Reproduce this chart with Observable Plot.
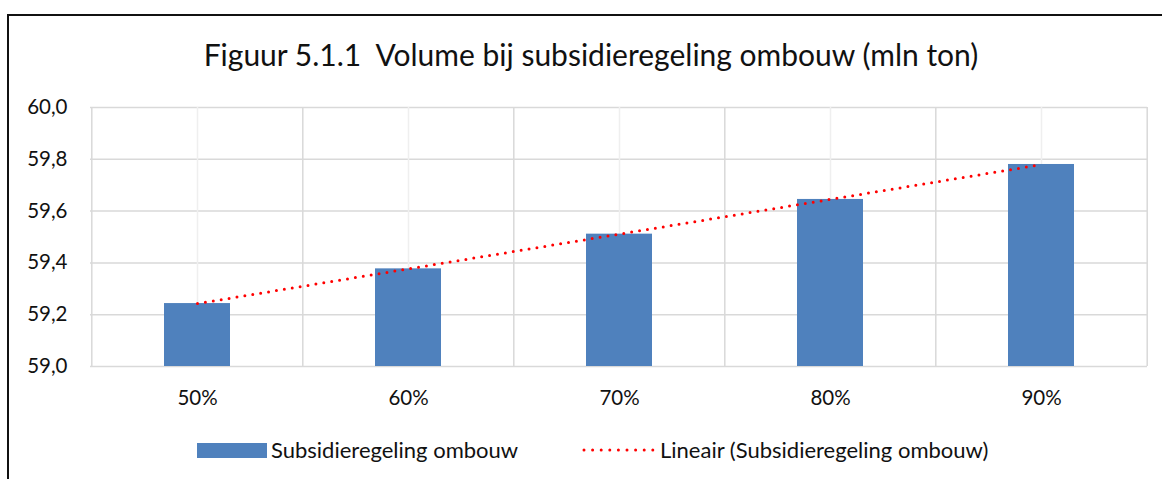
<!DOCTYPE html>
<html>
<head>
<meta charset="utf-8">
<script src="https://cdn.jsdelivr.net/npm/d3@7"></script>
<script src="https://cdn.jsdelivr.net/npm/@observablehq/plot@0.6"></script>
<style>
  html, body { margin: 0; padding: 0; background: #fff; }
  #wrap { position: relative; width: 1162px; height: 479px; overflow: hidden; font-family: Lato, "Open Sans", sans-serif; color: #111; }
  #frame { position: absolute; left: 7px; top: 14px; width: 1170px; height: 480px; border-left: 2px solid #111; border-top: 2px solid #111; }
  #title { position: absolute; left: 0; width: 1182px; top: 37px; text-align: center; font-size: 30px; line-height: 34px; white-space: pre; }
  #chart { position: absolute; left: 0; top: 90px; }
  #legend { position: absolute; top: 437px; left: 0; height: 26px; font-size: 22px; line-height: 26px; white-space: nowrap; }
  .item { position: absolute; top: 0; display: flex; align-items: center; height: 26px; }
  .swatch { width: 70px; height: 15px; background: #4f81bd; margin-right: 4px; }
</style>
</head>
<body>
<div id="wrap">
  <div id="frame"></div>
  <div id="title"></div>
  <div id="chart"></div>
  <div id="legend"></div>
</div>
<script>
// ---- data ----
const titleText = "Figuur 5.1.1  Volume bij subsidieregeling ombouw (mln ton)";
const categories = ["50%", "60%", "70%", "80%", "90%"];
const volumes = [59.243, 59.377, 59.511, 59.645, 59.780];
const yTicks = [59.0, 59.2, 59.4, 59.6, 59.8, 60.0];
const seriesName = "Subsidieregeling ombouw";
const trendName = "Lineair (Subsidieregeling ombouw)";

// ---- build ----
document.getElementById("title").textContent = titleText;

const data = categories.map((c, i) => ({cat: c, v: volumes[i], i}));
// linear trendline (least squares) computed from the series
const mx = d3.mean(data, d => d.i), my = d3.mean(data, d => d.v);
const slope = d3.sum(data, d => (d.i - mx) * (d.v - my)) / d3.sum(data, d => (d.i - mx) ** 2);
const intercept = my - slope * mx;
const trend = data.map(d => ({cat: d.cat, t: intercept + slope * d.i}));

const W = 1162, H = 330, ML = 90, MR = 15, MT = 17, MB = 54;
const step = (W - ML - MR) / categories.length;
const fmt = v => d3.format(".1f")(v).replace(".", ",");

const chart = Plot.plot({
  width: W, height: H,
  marginLeft: ML, marginRight: MR, marginTop: MT, marginBottom: MB,
  style: {fontFamily: "Lato, 'Open Sans', sans-serif", fontSize: "20px", color: "#111", background: "transparent", overflow: "visible"},
  x: {domain: categories, paddingInner: 0.688, paddingOuter: 0.344, align: 0.5, label: null},
  y: {domain: [59.0, 60.0], label: null},
  marks: [
    Plot.ruleY(yTicks, {stroke: "#d9d9d9", strokeWidth: 1.5}),
    Plot.ruleX(categories, {y1: 59.0, y2: 60.0, stroke: "#efefef", strokeWidth: 1.5}),
    Plot.ruleX(categories, {y1: 59.0, y2: 60.0, dx: -step / 2, stroke: "#d9d9d9", strokeWidth: 1.5}),
    Plot.ruleX(categories.slice(-1), {y1: 59.0, y2: 60.0, dx: step / 2, stroke: "#d9d9d9", strokeWidth: 1.5}),
    Plot.barY(data, {x: "cat", y1: 59.0, y2: "v", fill: "#4f81bd"}),
    Plot.line(trend, {x: "cat", y: "t", stroke: "#ff0000", strokeWidth: 3, strokeDasharray: "0 8", strokeLinecap: "round"}),
    Plot.axisY(yTicks, {tickSize: 0, tickPadding: 23, tickFormat: fmt, fontSize: 20.5}),
    Plot.axisX(categories, {tickSize: 0, tickPadding: 24, fontSize: 20.5})
  ]
});
document.getElementById("chart").appendChild(chart);

// legend
const legend = document.getElementById("legend");
const it1 = document.createElement("div");
it1.className = "item"; it1.style.left = "197px";
it1.innerHTML = `<div class="swatch"></div><span></span>`;
it1.querySelector("span").textContent = seriesName;
legend.appendChild(it1);
const it2 = document.createElement("div");
it2.className = "item"; it2.style.left = "580px";
it2.innerHTML = `<svg width="78" height="26" style="margin-right:2px"><line x1="4" x2="74" y1="13" y2="13" stroke="#ff0000" stroke-width="3" stroke-dasharray="0 8.6" stroke-linecap="round"/></svg><span></span>`;
it2.querySelector("span").textContent = trendName;
legend.appendChild(it2);
</script>
</body>
</html>
